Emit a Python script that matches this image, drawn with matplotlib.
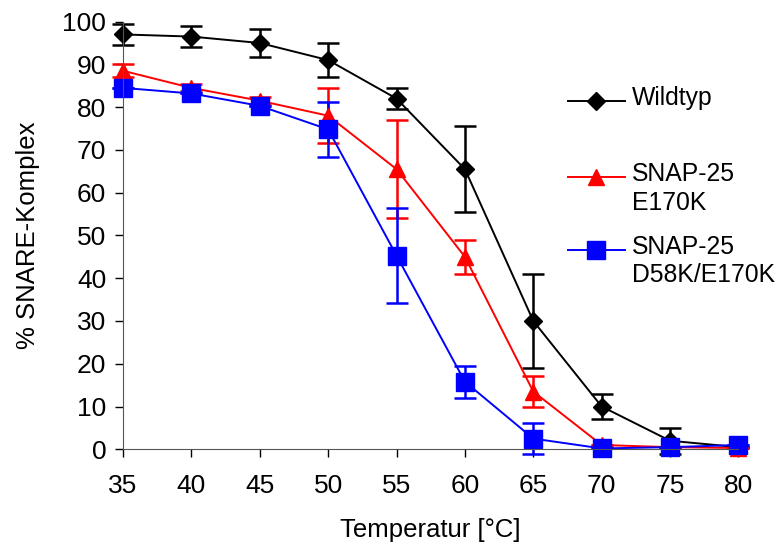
import matplotlib
matplotlib.use('Agg')
import matplotlib.pyplot as plt
from matplotlib.lines import Line2D

plt.rcParams['font.family'] = ['Liberation Sans', 'DejaVu Sans']

temps = [35, 40, 45, 50, 55, 60, 65, 70, 75, 80]

wt = [97, 96.5, 95, 91, 82, 65.5, 30, 10, 2, 0.5]
wt_err = [2.5, 2.5, 3.3, 4, 2.5, 10, 11, 3, 3, 0]

e170k = [88.5, 84.5, 81.5, 78, 65.5, 45, 13.5, 1, 0.5, 0.3]
e170k_err = [1.5, 0.8, 0.8, 6.5, 11.5, 4, 3.7, 0, 0, 0]

d58k = [84.5, 83.2, 80.3, 74.8, 45.3, 15.8, 2.5, 0.2, 0.5, 1]
d58k_err = [0, 0, 0, 6.5, 11.2, 3.7, 3.7, 0, 0, 0]

series = [
    ('Wildtyp', wt, wt_err, 'black', 'D', 9),
    ('SNAP-25\nE170K', e170k, e170k_err, 'red', '^', 12),
    ('SNAP-25\nD58K/E170K', d58k, d58k_err, 'blue', 's', 12.5),
]

fig = plt.figure(figsize=(7.81, 5.54), dpi=100)
ax = fig.add_axes([0.1575, 0.189, 0.788, 0.772])

for name, vals, errs, col, mk, ms in series:
    ax.errorbar(temps, vals, yerr=errs, color=col, marker=mk, markersize=ms,
                linewidth=1.4, elinewidth=1.8, capsize=8, capthick=1.8,
                clip_on=False)

ax.set_xlim(35, 80)
ax.set_ylim(0, 100)
ax.set_xticks(temps)
ax.set_yticks(range(0, 101, 10))
ax.tick_params(direction='out', length=6, width=1, labelsize=19, colors='black')
ax.tick_params(axis='x', pad=12)
ax.tick_params(axis='y', pad=6)
for s in ['top', 'right']:
    ax.spines[s].set_visible(False)
for s in ['left', 'bottom']:
    ax.spines[s].set_color('#555555')
ax.set_xlabel('Temperatur [°C]', fontsize=18.5, labelpad=14)
ax.set_ylabel('% SNARE-Komplex', fontsize=18.5, labelpad=16)

# legend drawn by hand so the marker sits on the first text line
leg_y = [0.818, 0.68, 0.549]
for (name, vals, errs, col, mk, ms), y in zip(series, leg_y):
    fig.add_artist(Line2D([0.727, 0.800], [y, y], color=col, linewidth=1.4,
                          transform=fig.transFigure))
    fig.add_artist(Line2D([0.7635], [y], color=col, marker=mk, markersize=ms,
                          transform=fig.transFigure))
    fig.text(0.809, y + 0.027, name, fontsize=17.8, va='top', ha='left',
             linespacing=1.22)

fig.savefig('out.png', dpi=100)
